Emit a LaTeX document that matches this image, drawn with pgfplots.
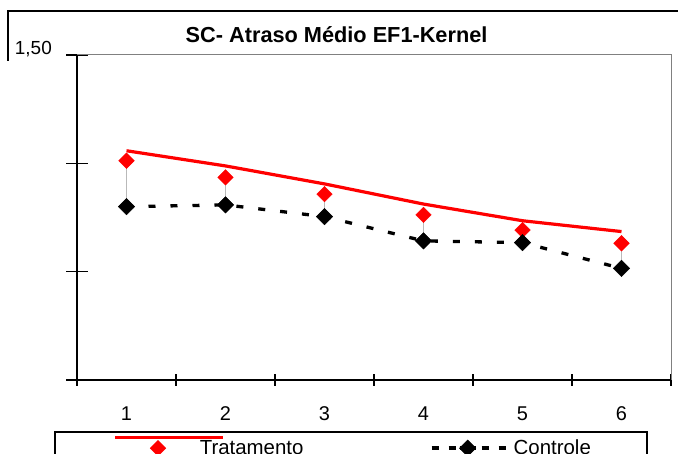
\documentclass[border=0pt]{standalone}
\usepackage{pgfplots}
\pgfplotsset{compat=1.18}
\usepackage{fontspec}
\setmainfont{Liberation Sans}

\definecolor{trat}{RGB}{255,0,0}
\definecolor{hilo}{RGB}{185,185,185}
\definecolor{frame}{RGB}{128,128,128}

\begin{document}
\begin{tikzpicture}[x=1bp,y=1bp]
\useasboundingbox (0,0) rectangle (678,454);
% chart frame (top and left edge)
\draw[line width=2bp] (8.3,393) -- (8.3,443) -- (700,443);

\begin{axis}[
  at={(77bp,74bp)}, anchor=south west,
  scale only axis, width=594bp, height=325bp,
  xmin=0.5, xmax=6.5, ymin=0, ymax=1.5,
  axis x line*=bottom, axis y line*=left,
  axis line style={line width=1.4bp, black, -},
  xtick={1,2,3,4,5,6}, xticklabels={1,2,3,4,5,6},
  minor xtick={0.5,1.5,...,6.5},
  ytick={0,0.5,1,1.5}, yticklabels={,,,{1,50}},
  tick align=center,
  major tick length=22bp, minor tick length=12bp,
  every major x tick/.style={draw=none},
  every tick/.style={line width=1.4bp, black},
  every minor tick/.style={line width=1.4bp, black},
  xticklabel style={font=\fontsize{20}{24}\selectfont, anchor=base, inner sep=0pt, yshift=-30bp},
  yticklabel style={font=\fontsize{19}{23}\selectfont, anchor=base east, inner sep=0pt, xshift=-14bp, yshift=0bp},
  title={\bfseries SC- Atraso Médio EF1-Kernel},
  title style={font=\fontsize{21.8}{26}\selectfont, at={(axis description cs:0.437,1)}, anchor=base, inner sep=0pt, yshift=6.5bp},
  clip=false,
  legend columns=2,
  legend cell align=left,
  legend style={
    at={(axis description cs:-0.0387,-0.1569)}, anchor=north west,
    draw=black, line width=2bp,
    inner xsep=0pt, inner ysep=8bp,
    nodes={inner sep=0pt, font=\fontsize{20.5}{24}\selectfont},
    /tikz/every odd column/.append style={column sep=34bp},
    /tikz/every even column/.append style={column sep=156bp},
  },
]
% plot area border
\draw[frame, line width=1bp] (rel axis cs:0,1) -- (rel axis cs:1,1) -- (rel axis cs:1,0);

% high-low connectors between the two series
\addplot[hilo, line width=1.5bp, forget plot, unbounded coords=jump] coordinates {
  (1,1.012) (1,0.800) (1,nan)
  (2,0.935) (2,0.808) (2,nan)
  (3,0.858) (3,0.754) (3,nan)
  (4,0.762) (4,0.642) (4,nan)
  (5,0.692) (5,0.634) (5,nan)
  (6,0.631) (6,0.515)
};

% kernel-smoothed treatment curve
\addplot[trat, line width=3.2bp, forget plot] coordinates {
  (1,1.058) (2,0.988) (3,0.905) (4,0.812) (5,0.735) (6,0.685)
};

% treatment means
\addplot[only marks, mark=square*, mark size=5.5bp,
  mark options={rotate=45, fill=trat, draw=trat}, forget plot] coordinates {
  (1,1.012) (2,0.935) (3,0.858) (4,0.762) (5,0.692) (6,0.631)
};

% control
\addplot[black, line width=3.3bp, dash pattern=on 7bp off 15bp,
  mark=square*, mark size=5.8bp,
  mark options={rotate=45, fill=black, draw=black, solid, line width=0.5bp}, forget plot] coordinates {
  (1,0.800) (2,0.808) (3,0.754) (4,0.642) (5,0.634) (6,0.515)
};

\addlegendimage{legend image code/.code={
  \path (-102bp,0bp);
  \draw[overlay, trat, line width=3.2bp] (-43bp,11bp) -- (65bp,11bp);
  \draw[mark=square*, mark size=5.5bp, mark options={rotate=45, fill=trat, draw=trat, line width=0.5bp}]
    plot coordinates {(0bp,0bp)};
}}
\addlegendentry{Tratamento}
\addlegendimage{legend image code/.code={
  \path (11bp,0bp);
  \draw[overlay, black, line width=3.5bp, dash pattern=on 7bp off 10bp] (-36bp,0bp) -- (-8bp,0bp);
  \draw[overlay, black, line width=3.5bp, dash pattern=on 7bp off 10bp] (14bp,0bp) -- (44bp,0bp);
  \draw[overlay, black, line width=3.5bp] (-8bp,0bp) -- (8bp,0bp);
  \draw[mark=square*, mark size=5.8bp, mark options={rotate=45, fill=black, draw=black, line width=0.5bp}]
    plot coordinates {(0bp,0bp)};
}}
\addlegendentry[text width=133bp]{Controle}
\end{axis}
\end{tikzpicture}
\end{document}
